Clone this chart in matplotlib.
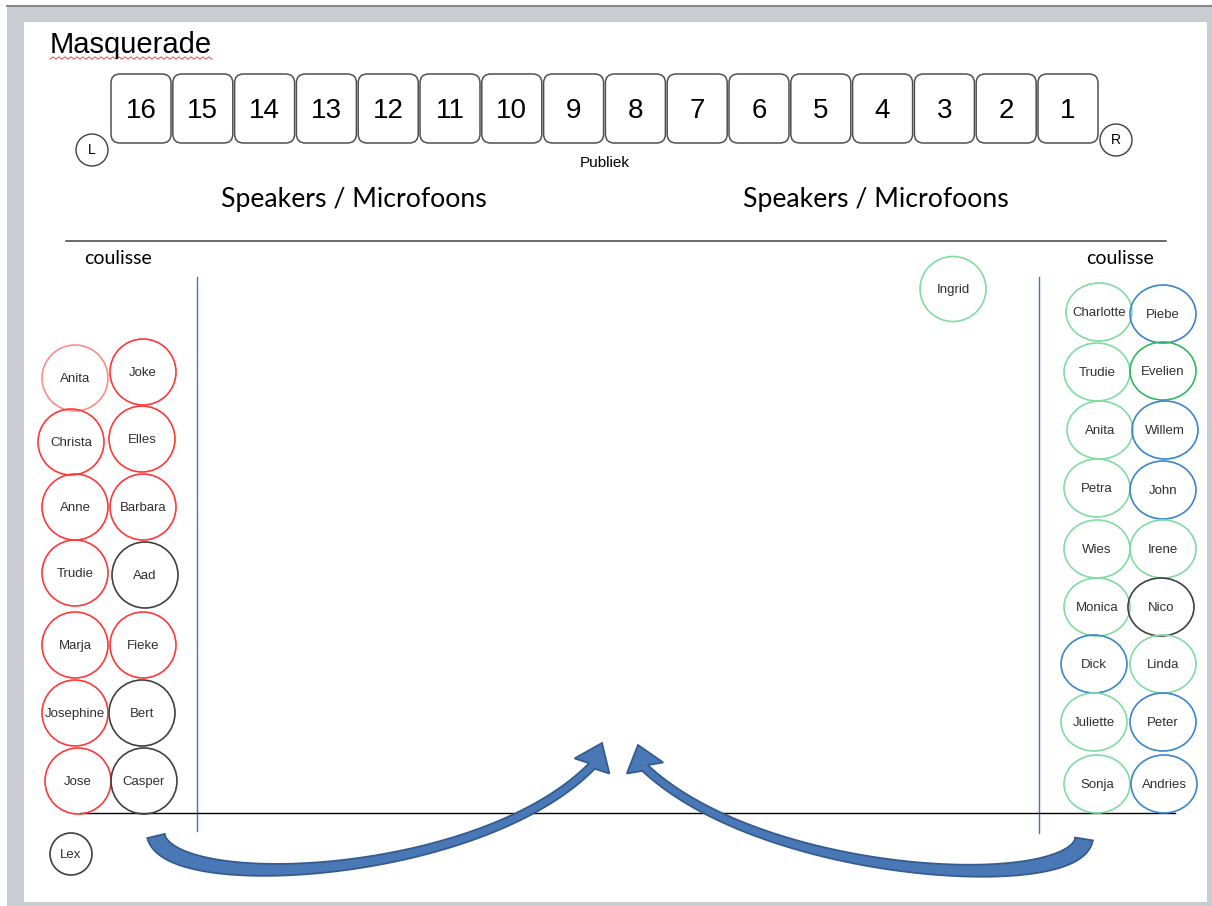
import matplotlib; matplotlib.use('Agg')
import matplotlib.pyplot as plt, numpy as np
from matplotlib.patches import Ellipse, FancyBboxPatch, Rectangle, Polygon

W, H = 1212, 906
SANS = ['Liberation Sans', 'DejaVu Sans']
CAL = ['Lato', 'DejaVu Sans']
RED, PINK, DARK = '#ff3838', '#ff8c8c', '#404040'
MINT, GREEN, BLUE = '#80dca2', '#2fb862', '#3a86cc'
ARROW_FILL, ARROW_EDGE = '#4a78b6', '#335c8f'

# seat numbers, left to right
seats = [16, 15, 14, 13, 12, 11, 10, 9, 8, 7, 6, 5, 4, 3, 2, 1]
seat_x0, seat_step, seat_y0, seat_w, seat_h = 111, 61.8, 74, 60, 69

# left wing (coulisse links)
left_names = ['Anita', 'Christa', 'Anne', 'Trudie', 'Marja', 'Josephine', 'Jose',
              'Joke', 'Elles', 'Barbara', 'Aad', 'Fieke', 'Bert', 'Casper']
left_x = [75, 71, 75, 75, 75, 75, 78, 143, 142, 143, 145, 143, 142, 144]
left_y = [378, 442, 507, 573, 645, 713, 781, 372, 439, 507, 575, 645, 713, 781]
left_col = [PINK, RED, RED, RED, RED, RED, RED, RED, RED, RED, DARK, RED, DARK, DARK]

# right wing (coulisse rechts)
right_names = ['Charlotte', 'Trudie', 'Anita', 'Petra', 'Wies', 'Monica', 'Dick', 'Juliette', 'Sonja',
               'Piebe', 'Evelien', 'Willem', 'John', 'Irene', 'Nico', 'Linda', 'Peter', 'Andries']
right_x = [1099, 1097, 1100, 1097, 1097, 1097, 1094, 1094, 1097,
           1163, 1163, 1165, 1163, 1163, 1161, 1163, 1163, 1164]
right_y = [312, 372, 430, 488, 549, 607, 664, 722, 784,
           314, 371, 430, 490, 549, 607, 664, 722, 784]
right_col = [MINT, MINT, MINT, MINT, MINT, MINT, BLUE, MINT, MINT,
             BLUE, GREEN, BLUE, BLUE, MINT, DARK, MINT, BLUE, BLUE]

# curved arrows: tail, two control points, head base, head tip
arrows = [
    [(156, 836), (170, 895), (480, 880), (592, 766), (602, 743)],
    [(1084, 839), (1075, 895), (765, 880), (645, 768), (638, 745)],
]

fig = plt.figure(figsize=(W / 100, H / 100), dpi=100)
ax = fig.add_axes([0, 0, 1, 1])
ax.set_xlim(0, W)
ax.set_ylim(H, 0)
ax.axis('off')

# page frame
ax.add_patch(Rectangle((7, 5), W - 7, H - 5, fc='#c9ccd1', ec='none'))
ax.plot([7, W], [6, 6], color='#85888d', lw=1.5)
ax.add_patch(Rectangle((24, 22), 1183, 880, fc='white', ec='none'))

ax.text(50, 45, 'Masquerade', fontsize=21, family=SANS, va='center', ha='left')
sq = np.arange(50, 213, 3)
ax.plot(sq, 58 + 1.2 * (-1) ** np.arange(len(sq)), color='#e03030', lw=0.6)

# seats
for i, s in enumerate(seats):
    x = seat_x0 + i * seat_step
    ax.add_patch(FancyBboxPatch((x, seat_y0), seat_w, seat_h,
                                boxstyle='round,pad=0,rounding_size=9',
                                fc='white', ec='#505050', lw=1.1))
    ax.text(x + seat_w / 2, seat_y0 + seat_h / 2 + 3, str(s), fontsize=20,
            family=SANS, ha='center', va='center')

for lbl, cx, cy in [('L', 92, 150), ('R', 1116, 140)]:
    ax.add_patch(Ellipse((cx, cy), 32, 32, fc='white', ec='#404040', lw=1.0))
    ax.text(cx, cy, lbl, fontsize=10, family=SANS, ha='center', va='center')

ax.text(605, 163, 'Publiek', fontsize=11, family=SANS, ha='center', va='center')
for cx in [354, 876]:
    ax.text(cx, 199, 'Speakers / Microfoons', fontsize=19.2, family=CAL,
            ha='center', va='center')

ax.plot([66, 1166], [241, 241], color='#404040', lw=1.1)
ax.text(118, 259, 'coulisse', fontsize=14, family=CAL, ha='center', va='center')
ax.text(1120, 258, 'coulisse', fontsize=14, family=CAL, ha='center', va='center')

ax.plot([197, 197], [277, 831], color='#4472c4', lw=1.0)
ax.plot([1039, 1039], [277, 833], color='#4472c4', lw=1.0)
ax.plot([80, 1175], [813, 813], color='black', lw=1.0)


def person(name, cx, cy, w, h, col):
    ax.add_patch(Ellipse((cx, cy), w, h, fc='none', ec=col, lw=1.2, zorder=3))
    ax.text(cx, cy + 1, name, fontsize=9.5, family=SANS, color='#303030',
            ha='center', va='center', zorder=4)


for n, x, y, c in zip(left_names, left_x, left_y, left_col):
    person(n, x, y, 66, 66, c)
for n, x, y, c in zip(right_names, right_x, right_y, right_col):
    person(n, x, y, 66, 58, c)
person('Ingrid', 953, 289, 66, 65, MINT)
person('Lex', 71, 854, 42, 42, DARK)


def curved_arrow(p0, p1, p2, p3, tip):
    p0, p1, p2, p3, tip = map(np.array, (p0, p1, p2, p3, tip))
    t = np.linspace(0, 1, 80)[:, None]
    c = (1 - t) ** 3 * p0 + 3 * (1 - t) ** 2 * t * p1 + 3 * (1 - t) * t ** 2 * p2 + t ** 3 * p3
    d = -3 * (1 - t) ** 2 * p0 + 3 * ((1 - t) ** 2 - 2 * t * (1 - t)) * p1 \
        + 3 * (2 * t * (1 - t) - t ** 2) * p2 + 3 * t ** 2 * p3
    d = d / np.linalg.norm(d, axis=1)[:, None]
    nrm = np.column_stack([-d[:, 1], d[:, 0]])
    w = (8 + 10 * (1 - t) ** 2) / 2
    a, b = c + nrm * w, c - nrm * w
    hd = (tip - p3) / np.linalg.norm(tip - p3)
    hn = np.array([-hd[1], hd[0]])
    head = [p3 + hn * 19, tip, p3 - hn * 19]
    if np.dot(hn, nrm[-1]) < 0:
        head = head[::-1]
    pts = np.vstack([a, head[0], head[1], head[2], b[::-1]])
    ax.add_patch(Polygon(pts, closed=True, fc=ARROW_FILL, ec=ARROW_EDGE,
                         lw=1.3, joinstyle='miter', zorder=5))


for arr in arrows:
    curved_arrow(*arr)

fig.savefig('out.png', dpi=100)
plt.close(fig)
